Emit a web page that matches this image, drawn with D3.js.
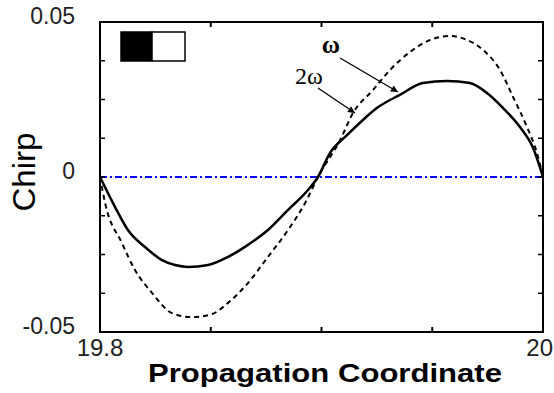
<!DOCTYPE html>
<html>
<head>
<meta charset="utf-8">
<script src="https://cdn.jsdelivr.net/npm/d3@7"></script>
<style>
  html, body { margin: 0; padding: 0; background: #fff; }
  svg { display: block; }
</style>
</head>
<body>
<div class="container"></div>
<script>
// propagation coordinate samples and chirp values
const xOmega = [19.8, 19.8068, 19.8126, 19.8203, 19.828, 19.8339, 19.8397, 19.8488, 19.8578, 19.8668,
    19.8758, 19.8849, 19.8939, 19.8984, 19.9038, 19.9115, 19.9187, 19.9251, 19.9354, 19.9458,
    19.9567, 19.967, 19.9747, 19.9819, 19.9896, 19.9955, 20];
const chirpOmega = [0, -0.0097, -0.0171, -0.0226, -0.0268, -0.0284, -0.029, -0.0284, -0.0258, -0.0219,
    -0.0171, -0.0106, -0.0042, 0, 0.0077, 0.0135, 0.0184, 0.0223, 0.0265, 0.0303,
    0.031, 0.0303, 0.0271, 0.0223, 0.0161, 0.0094, 0];

const x2Omega = [19.8, 19.8023, 19.8099, 19.8158, 19.8235, 19.8325, 19.8415, 19.8506, 19.8578, 19.8668,
    19.8758, 19.8849, 19.8926, 19.8984, 19.9084, 19.9142, 19.9233, 19.9309, 19.9399, 19.949,
    19.958, 19.9657, 19.9729, 19.9806, 19.9865, 19.9928, 19.9973, 20];
const chirp2Omega = [0, -0.0084, -0.0213, -0.03, -0.0374, -0.0439, -0.0452, -0.0442, -0.0406, -0.0342,
    -0.0258, -0.0171, -0.0084, 0, 0.0119, 0.0206, 0.0281, 0.0345, 0.0403, 0.0442,
    0.0455, 0.0442, 0.041, 0.0345, 0.0258, 0.0161, 0.0077, 0];

const xTicks = [19.8, 19.85, 19.9, 19.95, 20];
const xTickLabels = ['19.8', '', '', '', '20'];
const yTicks = [-0.05, -0.0375, -0.025, -0.0125, 0, 0.0125, 0.025, 0.0375, 0.05];
const yTickLabels = {'-0.05': '-0.05', '0': '0', '0.05': '0.05'};

const width = 554, height = 393;
const plotLeft = 100, plotRight = 543, plotTop = 22, plotBottom = 332;

const svg = d3.select('.container')
    .append('svg')
    .attr('width', width)
    .attr('height', height);

const x = d3.scaleLinear().domain([19.8, 20]).range([plotLeft, plotRight]);
const y = d3.scaleLinear().domain([-0.05, 0.05]).range([plotBottom, plotTop]);

// arrow head
svg.append('defs').append('marker')
    .attr('id', 'head')
    .attr('viewBox', '0 0 10 10')
    .attr('refX', 10).attr('refY', 5)
    .attr('markerWidth', 10).attr('markerHeight', 7)
    .attr('markerUnits', 'userSpaceOnUse')
    .attr('orient', 'auto')
    .append('path')
    .attr('d', 'M0,0 L10,5 L0,10 Z')
    .attr('fill', '#000');

// zero line
svg.append('line')
    .attr('x1', x(19.8)).attr('x2', x(20))
    .attr('y1', y(0)).attr('y2', y(0))
    .attr('stroke', '#0000ff')
    .attr('stroke-width', 2)
    .attr('stroke-dasharray', '7,3,2,3');

const line = d3.line()
    .x(d => x(d[0]))
    .y(d => y(d[1]))
    .curve(d3.curveMonotoneX);

svg.append('path')
    .datum(x2Omega.map((v, i) => [v, chirp2Omega[i]]))
    .attr('d', line)
    .attr('fill', 'none')
    .attr('stroke', '#000')
    .attr('stroke-width', 2)
    .attr('stroke-dasharray', '5,4');

svg.append('path')
    .datum(xOmega.map((v, i) => [v, chirpOmega[i]]))
    .attr('d', line)
    .attr('fill', 'none')
    .attr('stroke', '#000')
    .attr('stroke-width', 2.5);

// frame
svg.append('rect')
    .attr('x', plotLeft).attr('y', plotTop)
    .attr('width', plotRight - plotLeft).attr('height', plotBottom - plotTop)
    .attr('fill', 'none')
    .attr('stroke', '#000')
    .attr('stroke-width', 2);

// inward ticks
const tickLen = 5;
const xt = xTicks.slice(1, -1);
svg.append('g').selectAll('line').data(xt).join('line')
    .attr('x1', d => x(d)).attr('x2', d => x(d))
    .attr('y1', plotBottom).attr('y2', plotBottom - tickLen)
    .attr('stroke', '#000').attr('stroke-width', 2);
svg.append('g').selectAll('line').data(xt).join('line')
    .attr('x1', d => x(d)).attr('x2', d => x(d))
    .attr('y1', plotTop).attr('y2', plotTop + tickLen)
    .attr('stroke', '#000').attr('stroke-width', 2);
const yt = yTicks.slice(1, -1);
svg.append('g').selectAll('line').data(yt).join('line')
    .attr('x1', plotLeft).attr('x2', plotLeft + tickLen)
    .attr('y1', d => y(d)).attr('y2', d => y(d))
    .attr('stroke', '#000').attr('stroke-width', 1.5);
svg.append('g').selectAll('line').data(yt).join('line')
    .attr('x1', plotRight).attr('x2', plotRight - tickLen)
    .attr('y1', d => y(d)).attr('y2', d => y(d))
    .attr('stroke', '#000').attr('stroke-width', 1.5);

// tick labels
svg.append('g').selectAll('text').data(yTicks.filter(d => yTickLabels[String(d)] !== undefined)).join('text')
    .attr('x', 75)
    .attr('y', d => y(d) + 2)
    .attr('text-anchor', 'end')
    .attr('font-family', 'Liberation Sans, Arial, sans-serif')
    .attr('font-size', 23)
    .attr('fill', '#222')
    .text(d => yTickLabels[String(d)]);

svg.append('g').selectAll('text').data(xTicks.filter((d, i) => xTickLabels[i] !== '')).join('text')
    .attr('x', d => d === 20 ? 553 : x(d))
    .attr('y', 356)
    .attr('text-anchor', d => d === 20 ? 'end' : 'middle')
    .attr('font-family', 'Liberation Sans, Arial, sans-serif')
    .attr('font-size', 24)
    .attr('fill', '#222')
    .text(d => xTickLabels[xTicks.indexOf(d)]);

// axis titles
svg.append('text')
    .attr('x', 325).attr('y', 382)
    .attr('text-anchor', 'middle')
    .attr('font-family', 'Liberation Sans, Arial, sans-serif')
    .attr('font-weight', 'bold')
    .attr('font-size', 26)
    .attr('textLength', 354)
    .attr('lengthAdjust', 'spacingAndGlyphs')
    .text('Propagation Coordinate');

svg.append('text')
    .attr('transform', 'translate(35,172) rotate(-90)')
    .attr('text-anchor', 'middle')
    .attr('font-family', 'Liberation Sans, Arial, sans-serif')
    .attr('font-size', 31)
    .attr('textLength', 79)
    .attr('lengthAdjust', 'spacingAndGlyphs')
    .text('Chirp');

// legend-like box in top-left
svg.append('rect')
    .attr('x', 121).attr('y', 32).attr('width', 31).attr('height', 29)
    .attr('fill', '#000').attr('stroke', '#000').attr('stroke-width', 1.5);
svg.append('rect')
    .attr('x', 152).attr('y', 32).attr('width', 33).attr('height', 29)
    .attr('fill', '#fff').attr('stroke', '#000').attr('stroke-width', 1.5);

// annotations
svg.append('text')
    .attr('x', 331).attr('y', 53)
    .attr('text-anchor', 'middle')
    .attr('font-family', 'Liberation Serif, Times New Roman, serif')
    .attr('font-weight', 'bold')
    .attr('font-size', 25)
    .text('ω');
svg.append('text')
    .attr('x', 309).attr('y', 84)
    .attr('text-anchor', 'middle')
    .attr('font-family', 'Liberation Serif, Times New Roman, serif')
    .attr('font-size', 24)
    .text('2ω');

svg.append('line')
    .attr('x1', 340).attr('y1', 58).attr('x2', 398).attr('y2', 92)
    .attr('stroke', '#000').attr('stroke-width', 1.3)
    .attr('marker-end', 'url(#head)');
svg.append('line')
    .attr('x1', 318).attr('y1', 88).attr('x2', 355).attr('y2', 113)
    .attr('stroke', '#000').attr('stroke-width', 1.3)
    .attr('marker-end', 'url(#head)');
</script>
</body>
</html>
